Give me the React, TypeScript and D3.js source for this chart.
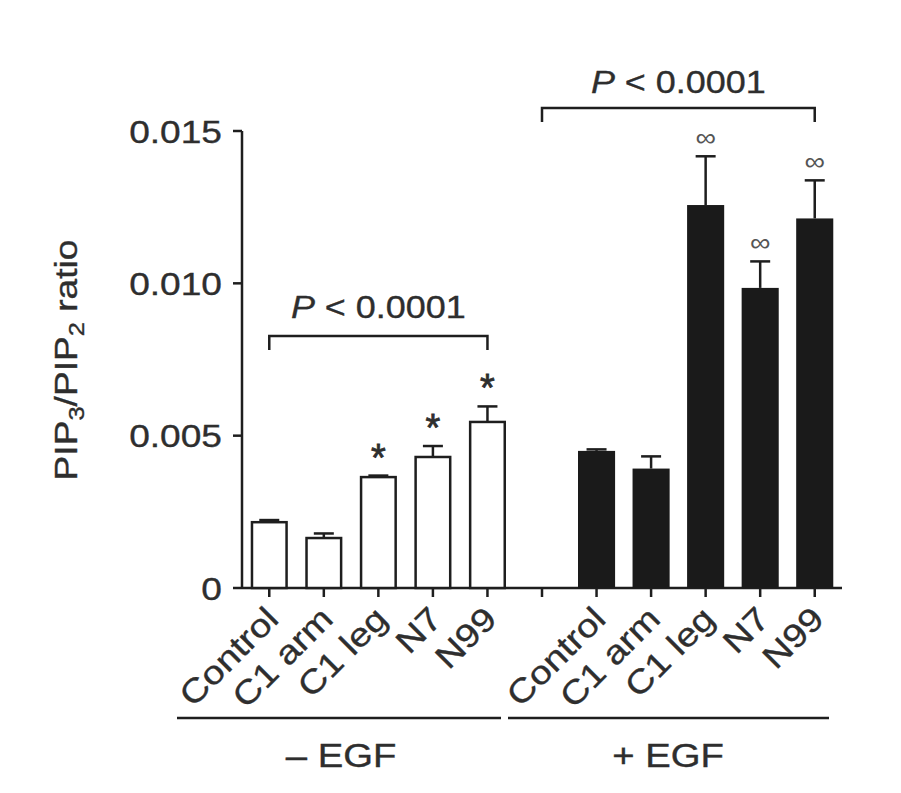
import React from "react";
import * as d3 from "d3";

const categories = ["Control", "C1 arm", "C1 leg", "N7", "N99"];
const minusMeans = [0.00216, 0.00164, 0.00364, 0.0043, 0.00545];
const minusErrors = [0.00007, 0.00015, 0.00005, 0.00036, 0.00051];
const plusMeans = [0.0045, 0.00392, 0.01257, 0.00985, 0.01213];
const plusErrors = [0.00005, 0.0004, 0.0016, 0.00087, 0.00125];
const minusMarks = ["", "", "*", "*", "*"];
const plusMarks = ["", "", "∞", "∞", "∞"];
const yTicks = [0, 0.005, 0.01, 0.015];
const yTickLabels = ["0", "0.005", "0.010", "0.015"];
const groupLabels = ["– EGF", "+ EGF"];
const pText = "< 0.0001";

const W = 901;
const H = 793;
const FONT = "'Liberation Sans', Arial, Helvetica, sans-serif";
const INK = "#1e1e1e";
const TXT = "#2e2e2e";
const SX = 1.16;
const TSTROKE = 0.35;

const slots = [
  ...categories.map((_, i) => `m${i}`),
  "gap",
  ...categories.map((_, i) => `p${i}`),
];

const x = d3.scaleBand<string>().domain(slots).range([242, 842]).paddingInner(0.32).paddingOuter(0.16);
const y = d3.scaleLinear().domain([0, 0.015]).range([588, 131]);
const cx = (s: string) => (x(s) as number) + x.bandwidth() / 2;

type Bar = { key: string; mean: number; err: number; mark: string; filled: boolean; label: string };
const bars: Bar[] = [
  ...categories.map((c, i) => ({ key: `m${i}`, mean: minusMeans[i], err: minusErrors[i], mark: minusMarks[i], filled: false, label: c })),
  ...categories.map((c, i) => ({ key: `p${i}`, mean: plusMeans[i], err: plusErrors[i], mark: plusMarks[i], filled: true, label: c })),
];

function STxt({ x0, y0, size, anchor = "middle", children, rotate = 0, italicP = false }: any) {
  return (
    <g transform={`translate(${x0},${y0}) rotate(${rotate}) scale(${SX},1)`}>
      <text textAnchor={anchor} fontSize={size} fontFamily={FONT} fill={TXT} stroke={TXT} strokeWidth={TSTROKE}>
        {italicP ? <tspan fontStyle="italic">P</tspan> : null}
        {italicP ? " " : null}
        {children}
      </text>
    </g>
  );
}

export default function App() {
  const base = y(0);
  const capW = 20;
  const brackets = [
    { x1: cx("m0"), x2: cx("m4"), top: 336, leg: 14, ty: 318 },
    { x1: cx("gap"), x2: cx("p4"), top: 108, leg: 14, ty: 93 },
  ];
  return (
    <svg width={W} height={H} style={{ position: "absolute", left: 0, top: 0, background: "#fff" }}>
      {/* y axis */}
      <line x1={242} x2={242} y1={y(0.015)} y2={base} stroke={INK} strokeWidth={2.5} />
      {yTicks.map((t, i) => (
        <g key={t}>
          <line x1={233} x2={242} y1={y(t)} y2={y(t)} stroke={INK} strokeWidth={2.5} />
          <STxt x0={222} y0={y(t) + 11.5} size={32} anchor="end">{yTickLabels[i]}</STxt>
        </g>
      ))}
      {/* y label */}
      <g transform={`translate(77,360) rotate(-90) scale(${SX},1)`}>
        <text textAnchor="middle" fontSize={32} fontFamily={FONT} fill={TXT} stroke={TXT} strokeWidth={TSTROKE}>
          PIP<tspan fontSize={22} dy={7}>3</tspan>
          <tspan dy={-7}>/PIP</tspan>
          <tspan fontSize={22} dy={7}>2</tspan>
          <tspan dy={-7}> ratio</tspan>
        </text>
      </g>
      {/* x baseline */}
      <line x1={242} x2={842} y1={base} y2={base} stroke={INK} strokeWidth={2.5} />
      {slots.map((s) => (
        <line key={s} x1={cx(s)} x2={cx(s)} y1={base} y2={base + 9} stroke={INK} strokeWidth={2.5} />
      ))}
      {/* bars */}
      {bars.map((b) => {
        const c = cx(b.key);
        const top = y(b.mean + b.err);
        return (
          <g key={b.key}>
            <line x1={c} x2={c} y1={y(b.mean)} y2={top} stroke={INK} strokeWidth={2.5} />
            <line x1={c - capW / 2} x2={c + capW / 2} y1={top} y2={top} stroke={INK} strokeWidth={2.5} />
            <rect
              x={(x(b.key) as number) + (b.filled ? 0 : 1.25)}
              y={y(b.mean)}
              width={x.bandwidth() - (b.filled ? 0 : 2.5)}
              height={base - y(b.mean)}
              fill={b.filled ? "#1a1a1a" : "#fff"}
              stroke={b.filled ? "none" : INK}
              strokeWidth={2.5}
            />
            {b.mark === "*" ? (
              <text x={c} y={top - 5} textAnchor="middle" fontSize={38} fontFamily={FONT} fill={TXT} stroke={TXT} strokeWidth={0.8}>*</text>
            ) : null}
            {b.mark === "∞" ? (
              <g transform={`translate(${c},${top - 10}) scale(1.15,1)`}>
                <text textAnchor="middle" fontSize={25} fontFamily={FONT} fill="#555">∞</text>
              </g>
            ) : null}
            <g transform={`translate(${c + 11},621) rotate(-45) scale(${SX},1)`}>
              <text textAnchor="end" fontSize={33} fontFamily={FONT} fill={TXT} stroke={TXT} strokeWidth={TSTROKE}>{b.label}</text>
            </g>
          </g>
        );
      })}
      {/* brackets */}
      {brackets.map((br, i) => (
        <g key={i}>
          <path
            d={`M${br.x1},${br.top + br.leg}V${br.top}H${br.x2}V${br.top + br.leg}`}
            fill="none"
            stroke={INK}
            strokeWidth={2.5}
          />
          <STxt x0={(br.x1 + br.x2) / 2} y0={br.ty} size={31} italicP>{pText}</STxt>
        </g>
      ))}
      {/* group lines */}
      <line x1={177} x2={501} y1={718} y2={718} stroke={INK} strokeWidth={2.5} />
      <line x1={508} x2={829} y1={718} y2={718} stroke={INK} strokeWidth={2.5} />
      <STxt x0={341} y0={767} size={33}>{groupLabels[0]}</STxt>
      <STxt x0={668} y0={767} size={33}>{groupLabels[1]}</STxt>
    </svg>
  );
}
